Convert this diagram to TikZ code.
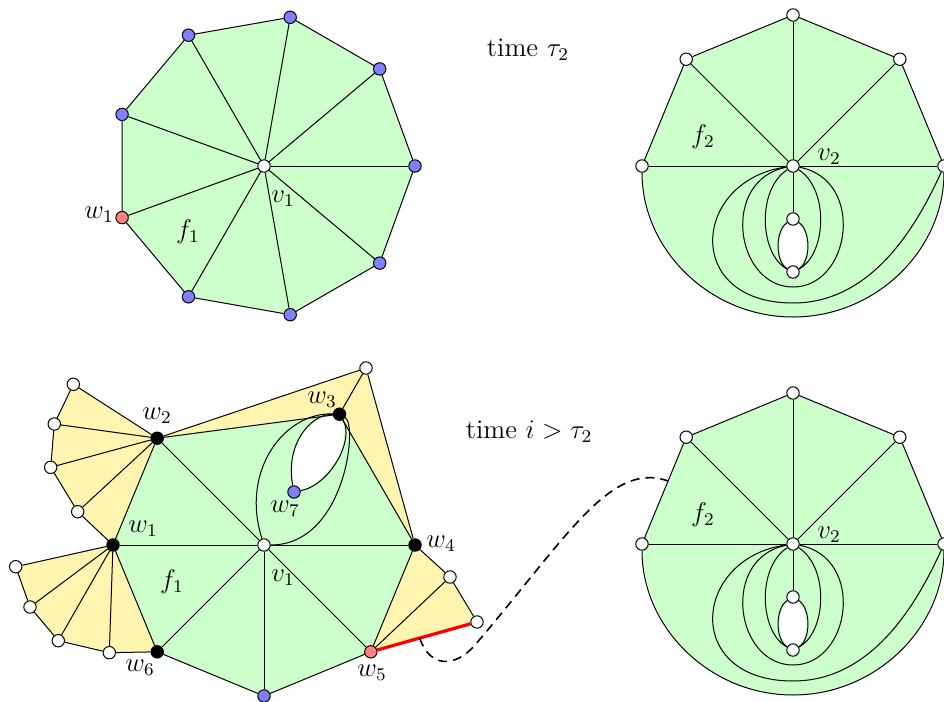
\documentclass[tikz,border=0pt,12pt]{standalone}
\usetikzlibrary{backgrounds,calc}
\definecolor{gfill}{HTML}{CCFFCC}
\definecolor{yfill}{HTML}{FFF5B0}
\definecolor{bnode}{HTML}{8080FF}
\definecolor{rnode}{HTML}{FF8080}
\newcommand{\mylab}[1]{\scalebox{1.12}{#1}}
\tikzset{
  vtx/.style={circle,draw=black,line width=0.5pt,inner sep=0pt,minimum size=6.2pt},
  wv/.style={vtx,fill=white},
  bv/.style={vtx,fill=bnode},
  rv/.style={vtx,fill=rnode},
  kv/.style={vtx,fill=black},
  lbl/.style={inner sep=0pt},
  edge/.style={line width=0.5pt},
  dashcurve/.style={line width=0.8pt,dash pattern=on 4.5pt off 3pt},
  redline/.style={line width=1.6pt,red}
}
\begin{document}
\begin{tikzpicture}[x=0.5pt,y=-0.5pt,font=\normalsize]
\useasboundingbox (0,0) rectangle (944,702);

% ---------------- top-left nonagon ----------------
\node[wv] (a0) at (264,166) {};
\node[bv] (a1) at (415,166) {};
\node[bv] (a2) at (379.7,68.9) {};
\node[bv] (a3) at (290.2,17.3) {};
\node[bv] (a4) at (188.5,35.2) {};
\node[bv] (a5) at (122.1,114.4) {};
\node[rv] (a6) at (122.1,217.6) {};
\node[bv] (a7) at (188.5,296.8) {};
\node[bv] (a8) at (290.2,314.7) {};
\node[bv] (a9) at (379.7,263.1) {};
\begin{pgfonlayer}{background}
  \fill[gfill] (a1.center) -- (a2.center) -- (a3.center) -- (a4.center) -- (a5.center)
    -- (a6.center) -- (a7.center) -- (a8.center) -- (a9.center) -- cycle;
\end{pgfonlayer}
\draw[edge] (a1) -- (a2) -- (a3) -- (a4) -- (a5) -- (a6) -- (a7) -- (a8) -- (a9) -- (a1);
\foreach \i in {1,...,9} \draw[edge] (a0) -- (a\i);
\node[lbl] (la1) at (99,215) {\mylab{$w_1$}};
\node[lbl] (lf1) at (188,232) {\mylab{$f_1$}};
\node[lbl] (lv1) at (283,199) {\mylab{$v_1$}};

\node[lbl] (t1) at (528,50) {\mylab{time $\tau_2$}};
\node[lbl] (t2) at (529,432) {\mylab{time $i > \tau_2$}};

% ---------------- right figures ----------------
\foreach \s/\p in {0/t,378/b}{
\begin{scope}[shift={(0,\s)},name prefix=\p-]
  \node[wv] (c) at (793,166) {};
  \node[wv] (r0) at (944,166) {};
  \node[wv] (r45) at (899.8,59.2) {};
  \node[wv] (r90) at (793,15) {};
  \node[wv] (r135) at (686.2,59.2) {};
  \node[wv] (r180) at (642,166) {};
  \node[wv] (ht) at (793,219) {};
  \node[wv] (hb) at (793,272) {};
  \coordinate (bm) at (793,317);
  \coordinate (ml) at (793,287);
  \coordinate (ob) at (793,303);
  \begin{pgfonlayer}{background}
    \fill[gfill] (r180.center) -- (r135.center) -- (r90.center) -- (r45.center) -- (r0.center)
      .. controls (944,249.4) and (876.4,317) .. (bm)
      .. controls (709.6,317) and (642,249.4) .. (r180.center) -- cycle;
    \fill[white] (ht.center) .. controls (775,230) and (775,262) .. (hb.center)
      .. controls (811,262) and (811,230) .. (ht.center) -- cycle;
  \end{pgfonlayer}
  \draw[edge] (r180) -- (r135) -- (r90) -- (r45) -- (r0);
  \draw[edge] (r0) .. controls (944,249.4) and (876.4,317) .. (bm)
      .. controls (709.6,317) and (642,249.4) .. (r180);
  \draw[edge] (c) -- (r0);
  \draw[edge] (c) -- (r45);
  \draw[edge] (c) -- (r90);
  \draw[edge] (c) -- (r135);
  \draw[edge] (c) -- (r180);
  \draw[edge] (c) -- (ht);
  \draw[edge] (ht) .. controls (775,230) and (775,262) .. (hb);
  \draw[edge] (ht) .. controls (811,230) and (811,262) .. (hb);
  \draw[edge] (c) .. controls (756,190) and (760,255) .. (hb);
  \draw[edge] (c) .. controls (830,190) and (826,255) .. (hb);
  \draw[edge] (c) .. controls (720,180) and (735,287) .. (ml)
      .. controls (851,287) and (866,180) .. (c);
  \draw[edge] (c) .. controls (692,180) and (682,303) .. (ob)
      .. controls (870,303) and (915,230) .. (r0);
  \node[lbl] (lf) at (703,137) {\mylab{$f_2$}};
  \node[lbl] (lv) at (829,157) {\mylab{$v_2$}};
\end{scope}
}

% ---------------- bottom-left figure ----------------
\node[wv] (v) at (264,545) {};
\node[kv] (w4) at (415,545) {};
\node[kv] (w3) at (339.5,414.2) {};
\node[kv] (w2) at (157.2,438.2) {};
\node[kv] (w1) at (113,545) {};
\node[kv] (w6) at (157.2,651.8) {};
\node[bv] (bt) at (264,696) {};
\node[rv] (w5) at (370.8,651.8) {};
\node[bv] (w7) at (294,492) {};
\node[wv] (T) at (366,368) {};
\node[wv] (R1) at (450,577) {};
\node[wv] (R2) at (477,622) {};
\node[wv] (A1) at (73.3,384.3) {};
\node[wv] (A2) at (54.3,424) {};
\node[wv] (A3) at (50.7,467.3) {};
\node[wv] (A4) at (77.7,511.7) {};
\node[wv] (B1) at (15.7,566.7) {};
\node[wv] (B2) at (30,607) {};
\node[wv] (B3) at (58.3,640.7) {};
\node[wv] (B4) at (109.3,652.7) {};

\begin{pgfonlayer}{background}
  \fill[yfill] (w2.center) -- (A1.center) -- (A2.center) -- (A3.center) -- (A4.center) -- (w1.center) -- cycle;
  \fill[yfill] (w1.center) -- (B1.center) -- (B2.center) -- (B3.center) -- (B4.center) -- (w6.center) -- cycle;
  \fill[yfill] (w2.center) -- (T.center) -- (w4.center) -- (w3.center) -- cycle;
  \fill[yfill] (w4.center) -- (R1.center) -- (R2.center) -- (w5.center) -- cycle;
  \fill[gfill] (w1.center) -- (w2.center) -- (w3.center) -- (w4.center) -- (w5.center)
    -- (bt.center) -- (w6.center) -- cycle;
  \fill[white] (w7.center) .. controls (285,445) and (310,414) .. (w3.center)
    .. controls (355,440) and (330,485) .. (w7.center) -- cycle;
\end{pgfonlayer}

% yellow fans
\draw[edge] (w2) -- (A1) -- (A2) -- (A3) -- (A4) -- (w1);
\draw[edge] (w2) -- (A2);
\draw[edge] (w2) -- (A3);
\draw[edge] (w2) -- (A4);
\draw[edge] (w1) -- (B1) -- (B2) -- (B3) -- (B4) -- (w6);
\draw[edge] (w1) -- (B2);
\draw[edge] (w1) -- (B3);
\draw[edge] (w1) -- (B4);
\draw[edge] (w2) -- (T) -- (w4);
\draw[edge] (T) -- (w3);
\draw[edge] (w4) -- (R1) -- (R2);
\draw[edge] (w5) -- (R1);
\draw[redline] (w5) -- (R2);
% green polygon
\draw[edge] (w1) -- (w2) -- (w3) -- (w4) -- (w5) -- (bt) -- (w6) -- (w1);
\draw[edge] (v) -- (w1);
\draw[edge] (v) -- (w2);
\draw[edge] (v) -- (w4);
\draw[edge] (v) -- (w5);
\draw[edge] (v) -- (bt);
\draw[edge] (v) -- (w6);
% lens and hole
\draw[edge] (v) .. controls (240,470) and (285,412) .. (w3);
\draw[edge] (v) .. controls (345,545) and (358,425) .. (w3);
\draw[edge] (w7) .. controls (285,445) and (310,414) .. (w3);
\draw[edge] (w7) .. controls (330,485) and (355,440) .. (w3);

% labels
\node[lbl] (lw2) at (157,416) {\mylab{$w_2$}};
\node[lbl] (lw3) at (322,400) {\mylab{$w_3$}};
\node[lbl] (lw1) at (143,529) {\mylab{$w_1$}};
\node[lbl] (lw7) at (285,509) {\mylab{$w_7$}};
\node[lbl] (lv1b) at (283,578) {\mylab{$v_1$}};
\node[lbl] (lf1b) at (172,582) {\mylab{$f_1$}};
\node[lbl] (lw6) at (140,668) {\mylab{$w_6$}};
\node[lbl] (lw5) at (372,673) {\mylab{$w_5$}};
\node[lbl] (lw4) at (441,544) {\mylab{$w_4$}};

% dashed connector
\coordinate (d1) at ($(w5)!0.46!(R2)$);
\coordinate (d2) at ($(b-r135)!0.41!(b-r180)$);
\coordinate (dm) at (475,645);
\draw[dashcurve] (d1) .. controls (430,668) and (455,668) .. (dm)
   .. controls (565,540) and (610,460) .. (d2);
\end{tikzpicture}
\end{document}
